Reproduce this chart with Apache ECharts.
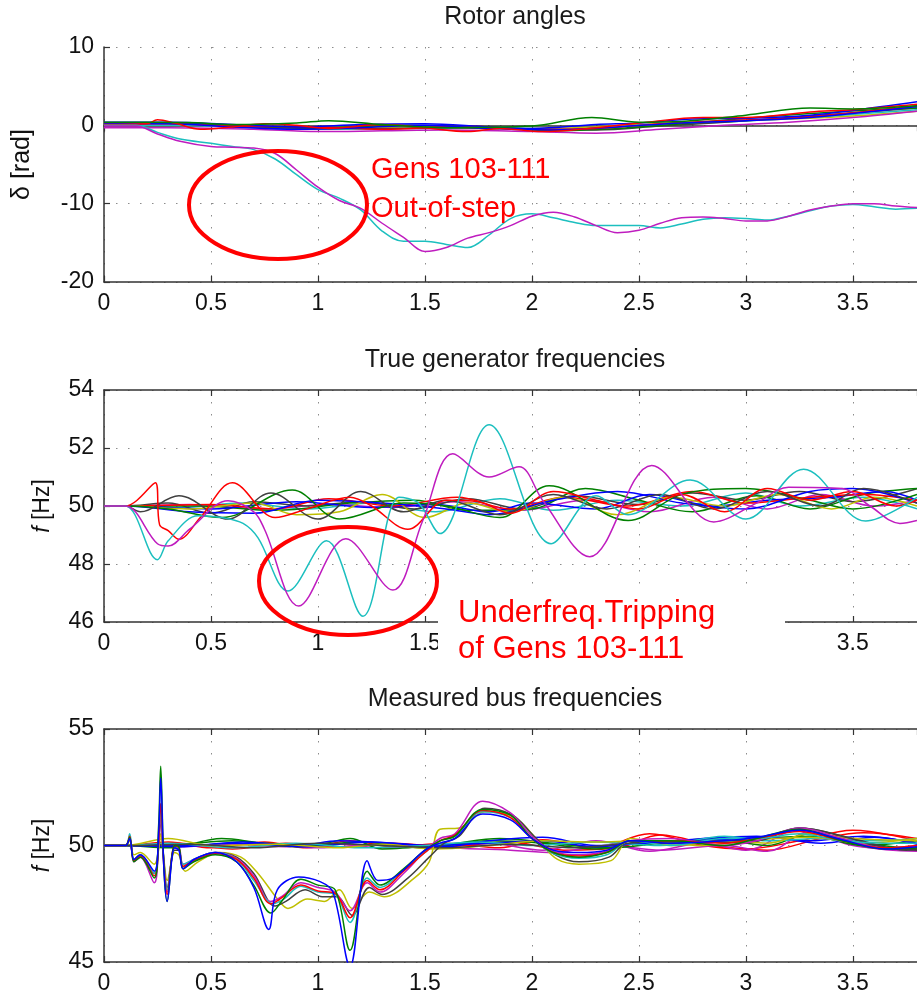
<!DOCTYPE html>
<html>
<head>
<meta charset="utf-8">
<script src="https://cdn.jsdelivr.net/npm/echarts@6/dist/echarts.min.js"></script>
<style>
  html, body { margin: 0; padding: 0; background: #fff; }
  #main { width: 917px; height: 997px; }
</style>
</head>
<body>
<div id="main"></div>
<script>
// time axis ticks (s)
var xTicks = [0, 0.5, 1, 1.5, 2, 2.5, 3, 3.5];

// ---- Rotor angles [rad], [t, delta] ----
var rotGreen = [[0,0.4],[0.2,0.4],[0.4,0.35],[0.6,0.1],[0.9,0.3],[1.05,0.6],[1.3,0.1],[1.6,-0.3],[2.0,-0.1],[2.28,1.0],[2.5,0.4],[2.7,0.5],[3.0,1.3],[3.3,2.2],[3.5,2.1],[3.8,2.5]];
var rotRed = [[0,0.1],[0.2,0.2],[0.25,0.7],[0.33,0.3],[0.45,-0.5],[0.6,-0.2],[0.75,0.2],[0.9,0],[1.05,-0.4],[1.3,0.1],[1.5,-0.3],[1.7,-0.8],[1.85,-0.4],[2.05,-0.8],[2.3,-0.3],[2.5,0.3],[2.8,1.0],[3.0,1.0],[3.3,1.7],[3.5,2.0],[3.8,2.7]];
var rotBlue1 = [[0,0.4],[0.3,0.4],[0.6,0.1],[0.9,-0.2],[1.2,0.1],[1.5,0.2],[1.8,-0.2],[2.0,-0.4],[2.3,0.1],[2.5,0.3],[2.75,0.8],[3.0,0.9],[3.3,1.3],[3.5,1.9],[3.8,3.0]];
var rotBlue2 = [[0,0.2],[0.3,0.2],[0.6,-0.2],[0.9,-0.5],[1.2,-0.3],[1.5,0],[1.8,-0.4],[2.1,-0.6],[2.4,-0.2],[2.7,0.3],[3.0,0.6],[3.3,1.0],[3.6,1.8],[3.8,2.4]];
var rotGray = [[0,0.3],[0.3,0.3],[0.7,-0.2],[1.0,-0.4],[1.3,-0.4],[1.6,-0.3],[2.0,-0.5],[2.3,-0.6],[2.6,-0.1],[2.9,0.4],[3.2,1.0],[3.5,1.6],[3.8,2.2]];
var rotYellow = [[0,0.2],[0.3,0.2],[0.7,-0.1],[1.0,-0.3],[1.4,-0.2],[1.8,-0.4],[2.2,-0.3],[2.5,0.1],[2.9,0.5],[3.2,0.8],[3.5,1.2],[3.8,1.8]];
var rotMagenta = [[0,-0.3],[0.3,-0.3],[0.7,-0.5],[1.0,-0.8],[1.3,-0.7],[1.6,-0.6],[2.0,-0.8],[2.3,-1.0],[2.6,-0.5],[2.9,0],[3.2,0.4],[3.5,1.0],[3.8,1.8]];
var rotCyan = [[0,0],[0.3,0],[0.7,-0.3],[1.0,-0.5],[1.4,-0.4],[1.8,-0.3],[2.2,-0.5],[2.5,0],[2.8,0.3],[3.1,0.7],[3.4,1.2],[3.8,2.0]];
var rotGreen2 = [[0,0.3],[0.3,0.3],[0.6,0],[1.0,-0.3],[1.4,0],[1.8,-0.2],[2.1,-0.7],[2.4,-0.4],[2.7,0.2],[3.0,0.9],[3.3,1.5],[3.6,2.0],[3.8,2.2]];
var rotRed2 = [[0,0.2],[0.3,0.2],[0.6,-0.1],[1.0,-0.2],[1.3,-0.5],[1.7,-0.1],[2.0,-0.5],[2.3,-0.4],[2.6,0.2],[2.9,0.6],[3.2,0.9],[3.5,1.6],[3.8,2.5]];
// gens 103-111 (out-of-step)
var rotOosCyan = [[0,0],[0.15,0],[0.25,-0.9],[0.35,-1.7],[0.5,-2.3],[0.6,-2.7],[0.7,-3.1],[0.8,-4.3],[0.9,-6.3],[1.0,-8.2],[1.1,-9.3],[1.2,-10.8],[1.3,-13.5],[1.4,-14.8],[1.5,-14.8],[1.6,-15.2],[1.7,-15.6],[1.8,-14],[1.9,-11.9],[2.0,-11.3],[2.1,-11.8],[2.2,-12.4],[2.3,-12.8],[2.4,-12.8],[2.5,-12.8],[2.6,-13.1],[2.7,-12.6],[2.8,-12.0],[2.9,-11.8],[3.0,-11.9],[3.1,-12.1],[3.2,-11.6],[3.3,-10.9],[3.4,-10.3],[3.5,-10.1],[3.6,-10.4],[3.7,-10.7],[3.8,-10.6]];
var rotOosMagenta = [[0,-0.1],[0.15,-0.1],[0.25,-1.1],[0.35,-2.0],[0.5,-2.7],[0.6,-2.8],[0.7,-2.9],[0.8,-3.6],[0.9,-5.7],[1.0,-7.9],[1.1,-9.6],[1.2,-10.6],[1.3,-12.5],[1.4,-14.3],[1.5,-16.1],[1.6,-15.6],[1.7,-14.4],[1.8,-13.7],[1.9,-12.8],[2.0,-11.6],[2.1,-11.1],[2.2,-11.7],[2.3,-12.8],[2.4,-13.7],[2.5,-13.4],[2.6,-12.5],[2.7,-11.8],[2.8,-11.7],[2.9,-11.9],[3.0,-12.2],[3.1,-12.2],[3.2,-11.6],[3.3,-10.8],[3.4,-10.3],[3.5,-10.0],[3.6,-10.0],[3.7,-10.3],[3.8,-10.5]];

// ---- True generator frequencies [Hz] ----
var genGray = [[0,50],[0.1,50],[0.17,49.8],[0.35,50.35],[0.58,49.55],[0.78,50.45],[1.0,49.55],[1.2,50.5],[1.4,49.8],[1.6,50.2],[1.85,49.7],[2.1,50.4],[2.35,49.9],[2.6,50.4],[2.85,49.9],[3.1,50.5],[3.35,50.0],[3.55,50.6],[3.8,50.1]];
var genGray2 = [[0,50],[0.1,50],[0.3,50.1],[0.5,49.75],[0.7,50.15],[0.95,50.0],[1.2,50.15],[1.45,49.9],[1.7,50.25],[1.95,49.9],[2.2,50.35],[2.5,50.05],[2.75,50.45],[3.0,50.2],[3.25,50.5],[3.5,50.15],[3.8,50.6]];
var genGreen = [[0,50],[0.1,50],[0.3,49.9],[0.55,49.6],[0.88,50.55],[1.1,49.55],[1.4,50.1],[1.6,50.0],[1.85,49.6],[2.08,50.7],[2.45,49.5],[2.7,50.4],[3.0,50.6],[3.3,50.2],[3.5,49.9],[3.8,50.4]];
var genGreen2 = [[0,50],[0.1,50],[0.45,50.0],[0.8,49.85],[1.15,50.1],[1.45,50.2],[1.7,49.85],[2.0,49.9],[2.25,50.6],[2.5,50.2],[2.75,49.8],[3.05,50.35],[3.3,49.9],[3.55,50.4],[3.8,50.6]];
var genYellow = [[0,50],[0.1,50],[0.4,49.9],[0.7,50.1],[0.9,49.7],[1.1,49.8],[1.3,50.4],[1.5,49.6],[1.7,50.1],[1.9,49.8],[2.15,50.3],[2.4,49.7],[2.65,50.3],[2.9,50.0],[3.15,50.4],[3.4,49.9],[3.6,50.3],[3.8,50.0]];
var genBlue1 = [[0,50],[0.1,50],[0.4,49.8],[0.7,49.75],[1.0,50.2],[1.3,50.1],[1.6,49.9],[1.8,49.7],[2.1,50.2],[2.4,50.5],[2.7,50.1],[3.0,49.9],[3.3,50.5],[3.5,50.6],[3.8,50.1]];
var genBlue2 = [[0,50],[0.1,50],[0.5,49.9],[0.9,50.15],[1.25,49.95],[1.55,50.05],[1.8,49.8],[2.0,50.1],[2.3,49.9],[2.55,50.4],[2.85,50.0],[3.1,50.2],[3.4,50.3],[3.65,50.5],[3.8,50.2]];
var genRed2 = [[0,50],[0.1,50],[0.5,50.05],[0.8,49.9],[1.05,50.25],[1.35,50.0],[1.65,50.3],[1.9,49.9],[2.15,50.3],[2.45,50.0],[2.75,50.5],[3.0,50.1],[3.3,50.3],[3.55,50.4],[3.8,50.2]];
var genMagenta2 = [[0,50],[0.1,50],[0.4,50.05],[0.75,49.9],[1.05,50.05],[1.35,49.95],[1.65,50.15],[1.95,49.85],[2.25,50.2],[2.55,49.8],[2.85,50.3],[3.1,49.9],[3.35,50.4],[3.6,50.0],[3.8,50.2]];
var genCyan2 = [[0,50],[0.1,50],[0.35,49.95],[0.65,50.1],[0.95,49.9],[1.25,50.1],[1.55,49.8],[1.85,50.25],[2.1,49.85],[2.4,50.2],[2.7,50.0],[3.0,50.45],[3.25,50.0],[3.55,50.3],[3.8,49.9]];
var genRed = [[0,50],[0.1,50],[0.24,50.8],[0.26,49.35],[0.3,49.15],[0.35,48.85],[0.45,49.6],[0.6,50.8],[0.8,49.6],[0.95,49.9],[1.15,50.3],[1.25,50.0],[1.42,49.2],[1.6,50.2],[1.75,50.15],[1.9,49.75],[2.1,50.5],[2.3,50.2],[2.5,49.9],[2.7,50.4],[2.9,49.8],[3.1,50.6],[3.3,50.2],[3.5,50.5],[3.7,50.0],[3.8,50.2]];
var genCyan = [[0,50],[0.1,50],[0.25,48.15],[0.3,48.8],[0.44,49.66],[0.55,49.6],[0.65,49.4],[0.72,48.9],[0.86,47.07],[1.04,48.8],[1.21,46.2],[1.38,50.3],[1.47,50.1],[1.57,49.05],[1.8,52.8],[2.09,48.7],[2.3,50.35],[2.45,49.7],[2.74,50.9],[3.0,49.55],[3.27,51.27],[3.56,49.48],[3.8,50.3]];
var genMagenta = [[0,50],[0.1,50],[0.25,48.7],[0.3,48.62],[0.4,49.2],[0.58,50.18],[0.7,49.8],[0.75,49.2],[0.91,46.55],[1.13,48.87],[1.35,47.1],[1.49,49.5],[1.63,51.8],[1.8,51.0],[1.94,51.35],[2.05,50.2],[2.27,48.25],[2.56,51.4],[2.85,49.45],[3.05,50.1],[3.2,50.65],[3.45,50.6],[3.58,50.0],[3.72,49.4],[3.8,49.5]];

// ---- Measured bus frequencies [Hz] ----
var busRedA = [[0,50],[0.1,50],[0.12,50.4],[0.14,49.35],[0.17,49.55],[0.235,48.7],[0.255,50.2],[0.265,51.8],[0.28,49.2],[0.295,47.9],[0.33,50.0],[0.35,49.9],[0.37,49.1],[0.42,49.35],[0.52,49.65],[0.62,49.4],[0.7,48.6],[0.78,47.5],[0.83,47.75],[0.92,48.3],[1.0,48.05],[1.08,47.95],[1.15,46.9],[1.23,48.5],[1.29,48.1],[1.4,48.9],[1.5,49.7],[1.57,50.2],[1.64,50.45],[1.77,51.5],[1.9,51.2],[2.0,50.3],[2.1,49.7],[2.22,49.55],[2.35,49.7],[2.46,50.2],[2.65,50.2],[2.9,50.1],[3.05,50.3],[3.25,50.6],[3.45,50.2],[3.65,49.9],[3.8,50.0]];
var busBlueA = [[0,50],[0.1,50],[0.12,50.3],[0.14,49.4],[0.17,49.6],[0.235,48.9],[0.255,50.5],[0.265,52.9],[0.28,49],[0.295,47.6],[0.33,49.9],[0.35,49.8],[0.37,49.0],[0.42,49.4],[0.52,49.7],[0.62,49.3],[0.7,48.2],[0.77,46.4],[0.81,48.1],[0.91,48.65],[1.01,48.45],[1.07,48.0],[1.15,44.8],[1.23,49.35],[1.28,48.5],[1.35,48.6],[1.5,49.8],[1.57,50.1],[1.64,50.3],[1.77,51.35],[1.9,51.1],[2.0,50.3],[2.1,49.8],[2.22,49.7],[2.35,49.8],[2.46,50.2],[2.65,50.1],[2.9,50.2],[3.05,50.35],[3.25,50.65],[3.45,50.25],[3.65,49.85],[3.8,49.95]];
var busGreenA = [[0,50],[0.1,50],[0.12,50.35],[0.14,49.3],[0.17,49.5],[0.235,48.6],[0.255,50.8],[0.265,53.4],[0.28,49],[0.295,47.6],[0.33,50.0],[0.35,49.95],[0.37,49.0],[0.42,49.3],[0.52,49.6],[0.62,49.3],[0.7,48.3],[0.78,47.1],[0.83,47.6],[0.92,48.55],[1.0,48.3],[1.08,48.1],[1.15,45.5],[1.23,48.9],[1.29,48.3],[1.4,49.0],[1.5,49.8],[1.57,50.2],[1.64,50.4],[1.77,51.55],[1.9,51.3],[2.0,50.3],[2.1,49.7],[2.22,49.5],[2.35,49.7],[2.46,50.2],[2.65,50.2],[2.9,50.0],[3.05,50.3],[3.25,50.7],[3.45,50.2],[3.65,49.85],[3.8,49.9]];
var busMagentaA = [[0,50],[0.1,50],[0.12,50.3],[0.14,49.3],[0.17,49.5],[0.235,48.4],[0.255,50.0],[0.265,51.2],[0.28,49.1],[0.295,48.0],[0.33,49.9],[0.35,49.9],[0.37,49.2],[0.42,49.4],[0.52,49.7],[0.62,49.45],[0.7,48.7],[0.78,47.6],[0.83,47.8],[0.92,48.4],[1.0,48.2],[1.08,48.0],[1.15,47.2],[1.23,48.4],[1.29,48.0],[1.4,48.8],[1.5,49.75],[1.57,50.3],[1.64,50.5],[1.77,51.9],[1.9,51.4],[2.0,50.4],[2.1,49.75],[2.22,49.6],[2.35,49.75],[2.46,50.2],[2.65,50.3],[2.9,50.0],[3.05,50.2],[3.25,50.75],[3.45,50.3],[3.65,49.9],[3.8,50.0]];
var busGrayA = [[0,50],[0.1,50],[0.12,50.3],[0.14,49.4],[0.17,49.6],[0.235,48.8],[0.255,50.1],[0.265,51.0],[0.28,49.3],[0.295,48.2],[0.33,49.8],[0.35,49.8],[0.37,49.1],[0.42,49.4],[0.52,49.7],[0.62,49.5],[0.7,48.8],[0.8,47.4],[0.85,47.6],[0.94,48.1],[1.02,47.8],[1.09,47.8],[1.16,47.0],[1.24,48.2],[1.3,47.9],[1.42,48.6],[1.52,49.5],[1.59,50.1],[1.66,50.4],[1.78,51.6],[1.91,51.3],[2.01,50.4],[2.11,49.6],[2.22,49.3],[2.36,49.5],[2.46,50.2],[2.65,50.1],[2.9,50.2],[3.05,50.2],[3.25,50.75],[3.45,50.4],[3.65,49.9],[3.8,49.8]];
var busCyanA = [[0,50],[0.1,50],[0.12,50.5],[0.14,49.4],[0.17,49.6],[0.235,48.8],[0.255,50.3],[0.265,51.5],[0.28,49.3],[0.295,48.1],[0.33,49.9],[0.35,49.85],[0.37,49.2],[0.42,49.4],[0.52,49.7],[0.62,49.4],[0.7,48.5],[0.79,47.5],[0.84,47.7],[0.92,48.25],[1.0,48.0],[1.08,47.9],[1.15,46.7],[1.23,48.6],[1.29,48.2],[1.4,48.95],[1.5,49.7],[1.57,50.2],[1.64,50.4],[1.77,51.45],[1.9,51.2],[2.0,50.3],[2.1,49.65],[2.22,49.45],[2.35,49.6],[2.46,50.2],[2.65,50.0],[2.9,50.3],[3.05,50.3],[3.25,50.5],[3.45,50.2],[3.65,50.1],[3.8,50.1]];
var busYellowA = [[0,50],[0.1,50],[0.12,50.2],[0.14,49.6],[0.17,49.7],[0.235,49.2],[0.255,49.8],[0.265,50.5],[0.28,49.4],[0.295,48.5],[0.33,49.7],[0.35,49.6],[0.38,48.9],[0.44,49.3],[0.54,49.7],[0.64,49.5],[0.72,48.8],[0.82,47.6],[0.86,47.3],[0.95,47.7],[1.03,47.6],[1.1,48.1],[1.16,47.3],[1.24,48.0],[1.31,47.8],[1.45,48.6],[1.52,49.3],[1.57,50.7],[1.66,50.75],[1.78,51.45],[1.92,51.2],[2.02,50.3],[2.12,49.4],[2.22,49.2],[2.37,49.35],[2.46,50.3],[2.65,50.0],[2.9,50.2],[3.1,50.1],[3.3,50.5],[3.5,50.3],[3.8,50.2]];
var busRedB = [[0,50],[0.1,50],[0.3,50.15],[0.5,49.9],[0.75,50.15],[0.95,49.9],[1.15,50.2],[1.35,49.95],[1.6,50.1],[1.85,49.9],[2.05,50.25],[2.3,49.9],[2.55,50.5],[2.8,50.0],[3.0,49.85],[3.25,50.2],[3.5,50.65],[3.8,50.2]];
var busRedB2 = [[0,50],[0.1,50],[0.35,50.1],[0.6,49.85],[0.85,50.1],[1.1,49.95],[1.35,50.1],[1.6,49.95],[1.9,50.15],[2.15,49.8],[2.4,49.9],[2.6,50.45],[2.85,50.0],[3.1,49.8],[3.35,50.3],[3.55,50.55],[3.8,50.3]];
var busMagentaB = [[0,50],[0.1,50],[0.35,49.95],[0.6,50.05],[0.85,49.95],[1.05,50.1],[1.3,49.9],[1.55,50.0],[1.8,50.1],[2.05,49.8],[2.3,50.2],[2.55,49.75],[2.8,50.1],[3.0,49.8],[3.25,50.7],[3.5,50.0],[3.8,49.8]];
var busMagentaB2 = [[0,50],[0.1,50],[0.4,50.0],[0.7,50.1],[1.0,49.9],[1.3,50.05],[1.6,49.9],[1.9,49.8],[2.1,49.7],[2.35,50.0],[2.6,49.8],[2.9,50.0],[3.1,49.75],[3.3,50.6],[3.55,49.95],[3.8,49.75]];
var busGreenB = [[0,50],[0.1,50],[0.3,49.9],[0.55,50.3],[0.75,50.1],[1.0,50.05],[1.15,50.3],[1.3,49.85],[1.6,50.05],[1.85,50.3],[2.1,50.1],[2.35,49.9],[2.6,50.1],[2.85,50.3],[3.1,50.0],[3.3,50.5],[3.55,50.1],[3.8,49.85]];
var busGreenB2 = [[0,50],[0.1,50],[0.35,50.05],[0.6,50.2],[0.9,49.95],[1.2,50.15],[1.5,49.9],[1.8,50.2],[2.05,50.1],[2.3,49.85],[2.55,50.2],[2.8,50.15],[3.05,50.3],[3.3,50.4],[3.55,50.0],[3.8,50.2]];
var busBlueB = [[0,50],[0.1,50],[0.4,50.0],[0.65,50.15],[0.9,50.0],[1.1,50.2],[1.35,50.1],[1.6,49.95],[1.8,50.2],[2.05,50.35],[2.3,50.0],[2.55,50.1],[2.8,50.3],[3.05,50.4],[3.3,50.2],[3.55,50.4],[3.8,50.1]];
var busBlueB2 = [[0,50],[0.1,50],[0.35,49.95],[0.6,50.1],[0.95,49.95],[1.25,50.15],[1.5,50.0],[1.8,50.1],[2.05,50.2],[2.3,49.95],[2.55,50.15],[2.85,50.25],[3.1,50.35],[3.35,50.1],[3.6,50.35],[3.8,50.05]];
var busCyanB = [[0,50],[0.1,50],[0.3,50.1],[0.6,49.9],[0.9,50.1],[1.2,49.9],[1.5,50.0],[1.75,50.15],[2.0,50.0],[2.3,50.15],[2.6,50.0],[2.9,50.4],[3.1,50.2],[3.35,50.3],[3.6,50.2],[3.8,50.3]];
var busYellowB = [[0,50],[0.1,50],[0.3,50.3],[0.5,50.0],[0.8,50.05],[1.1,49.9],[1.3,50.05],[1.55,49.85],[1.8,50.0],[2.05,50.2],[2.3,50.15],[2.5,50.2],[2.8,50.0],[3.0,50.2],[3.3,50.35],[3.55,50.1],[3.8,50.3]];
var busGrayB = [[0,50],[0.1,50],[0.4,50.05],[0.7,49.9],[1.0,50.1],[1.3,50.0],[1.6,49.9],[1.9,50.05],[2.2,49.9],[2.45,50.1],[2.7,50.2],[3.0,50.1],[3.25,50.75],[3.5,50.3],[3.75,49.8],[3.8,49.85]];

// matlab-ish line colours
var C = { b: '#0000ff', g: '#008000', r: '#ff0000', c: '#1cbfbf', m: '#bf1cbf', y: '#bfbf00', k: '#404040' };

var panels = [
  { title: 'Rotor angles', top: 47, height: 235, min: -20, max: 10, interval: 10,
    lines: [[rotYellow, C.y], [rotCyan, C.c], [rotMagenta, C.m], [rotGray, C.k], [rotGreen2, C.g], [rotRed2, C.r],
            [rotBlue2, C.b], [rotBlue1, C.b], [rotRed, C.r], [rotGreen, C.g], [rotOosCyan, C.c], [rotOosMagenta, C.m]] },
  { title: 'True generator frequencies', top: 390, height: 232, min: 46, max: 54, interval: 2,
    lines: [[genCyan2, C.c], [genMagenta2, C.m], [genGray2, C.k], [genGreen2, C.g], [genBlue2, C.b], [genRed2, C.r],
            [genYellow, C.y], [genBlue1, C.b], [genGreen, C.g], [genGray, C.k], [genRed, C.r], [genCyan, C.c], [genMagenta, C.m]] },
  { title: 'Measured bus frequencies', top: 729, height: 233, min: 45, max: 55, interval: 5,
    lines: [[busRedB, C.r], [busRedB2, C.r], [busMagentaB, C.m], [busMagentaB2, C.m], [busGreenB, C.g], [busGreenB2, C.g],
            [busBlueB, C.b], [busBlueB2, C.b], [busCyanB, C.c], [busYellowB, C.y], [busGrayB, C.k],
            [busYellowA, C.y], [busGrayA, C.k], [busMagentaA, C.m], [busCyanA, C.c], [busRedA, C.r], [busGreenA, C.g], [busBlueA, C.b]] }
];

var FONT = 'Liberation Sans, Arial, sans-serif';
var chart = echarts.init(document.getElementById('main'));

var dotted = { color: '#8c8c8c', type: [1.5, 10.5], width: 1 };
var grids = [], xAxes = [], yAxes = [], titles = [], series = [];
panels.forEach(function (p, i) {
  grids.push({ left: 104, top: p.top, width: 821, height: p.height });
  titles.push({ text: p.title, left: 515, top: p.top - 42, textAlign: 'center', padding: 0,
    textStyle: { fontFamily: FONT, fontSize: 25, fontWeight: 'normal', color: '#1a1a1a' } });
  xAxes.push({
    gridIndex: i, type: 'value', min: 0, max: 3.8, interval: 0.5,
    axisLine: { onZero: false, lineStyle: { color: '#333', width: 1.5 } },
    axisTick: { inside: true, length: 6, lineStyle: { color: '#333', width: 1.2 } },
    axisLabel: { showMaxLabel: false, margin: 10, fontFamily: FONT, fontSize: 23, color: '#111',
      formatter: function (v) { return xTicks.indexOf(v) >= 0 ? String(v) : ''; } },
    splitLine: { show: true, lineStyle: dotted }
  });
  xAxes.push({ // top frame
    gridIndex: i, type: 'value', min: 0, max: 3.8, interval: 0.5, position: 'top',
    axisLine: { lineStyle: { color: '#333', width: 1.5 } },
    axisTick: { inside: true, length: 6, lineStyle: { color: '#333', width: 1.2 } },
    axisLabel: { show: false }, splitLine: { show: false }
  });
  yAxes.push({
    gridIndex: i, type: 'value', min: p.min, max: p.max, interval: p.interval,
    axisLine: { show: true, lineStyle: { color: '#333', width: 1.5 } },
    axisTick: { show: true, inside: true, length: 6, lineStyle: { color: '#333', width: 1.2 } },
    axisLabel: { margin: 10, fontFamily: FONT, fontSize: 23, color: '#111' },
    splitLine: { show: true, lineStyle: dotted },
    name: i === 0 ? '\u03b4 [rad]' : '{i|f} [Hz]',
    nameLocation: 'middle', nameGap: i === 0 ? 69 : 50,
    nameTextStyle: { fontFamily: FONT, fontSize: i === 0 ? 25 : 23, color: '#111',
      rich: { i: { fontFamily: FONT, fontSize: 23, fontStyle: 'italic', color: '#111' } } }
  });
  p.lines.forEach(function (ln) {
    series.push({
      type: 'line', xAxisIndex: i * 2, yAxisIndex: i, data: ln[0],
      smooth: 0.35, showSymbol: false, clip: true, silent: true,
      lineStyle: { color: ln[1], width: 1.5 }, itemStyle: { color: ln[1] }
    });
  });
});

var option = {
  backgroundColor: '#fff',
  animation: false,
  title: titles,
  grid: grids,
  xAxis: xAxes,
  yAxis: yAxes,
  series: series,
  graphic: [
    { type: 'ellipse', z: 100, shape: { cx: 278, cy: 205, rx: 89, ry: 54 },
      style: { fill: null, stroke: '#ff0000', lineWidth: 4 } },
    { type: 'text', z: 100, x: 371, y: 170,
      style: { text: 'Gens 103-111', fill: '#ff0000', font: '29px ' + FONT, verticalAlign: 'middle' } },
    { type: 'text', z: 100, x: 371, y: 209,
      style: { text: 'Out-of-step', fill: '#ff0000', font: '29px ' + FONT, verticalAlign: 'middle' } },
    { type: 'ellipse', z: 100, shape: { cx: 348, cy: 581, rx: 89, ry: 54 },
      style: { fill: null, stroke: '#ff0000', lineWidth: 4 } },
    { type: 'rect', z: 100, shape: { x: 438, y: 594, width: 347, height: 76 },
      style: { fill: '#fff' } },
    { type: 'text', z: 101, x: 458, y: 613,
      style: { text: 'Underfreq.Tripping', fill: '#ff0000', font: '31px ' + FONT, verticalAlign: 'middle' } },
    { type: 'text', z: 101, x: 458, y: 649,
      style: { text: 'of Gens 103-111', fill: '#ff0000', font: '31px ' + FONT, verticalAlign: 'middle' } }
  ]
};

chart.setOption(option);
window.addEventListener('resize', chart.resize);
</script>
</body>
</html>
